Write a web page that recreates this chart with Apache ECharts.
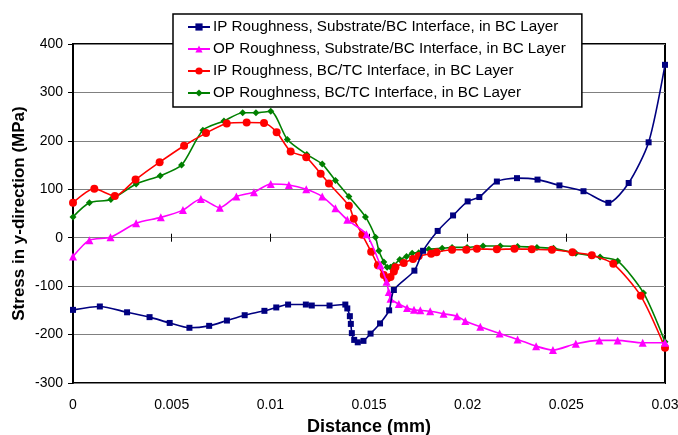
<!DOCTYPE html>
<html>
<head>
<meta charset="utf-8">
<script src="https://cdn.jsdelivr.net/npm/echarts@6/dist/echarts.min.js"></script>
<style>
html,body{margin:0;padding:0;background:#fff;}
#chart{width:678px;height:435px;}
</style>
</head>
<body>
<div id="chart"></div>
<script>
// ---- data ----
var seriesNames = [
  'IP Roughness, Substrate/BC Interface, in BC Layer',
  'OP Roughness, Substrate/BC Interface, in BC Layer',
  'IP Roughness, BC/TC Interface, in BC Layer',
  'OP Roughness, BC/TC Interface, in BC Layer'
];

var ipSubX = [0, 0.00136, 0.00274, 0.00388, 0.0049, 0.0059, 0.0069, 0.0078, 0.0087, 0.0097, 0.0103, 0.0109, 0.0118, 0.0121, 0.0130, 0.0138, 0.0139, 0.01403, 0.01408, 0.01413, 0.01425, 0.01443, 0.01472, 0.01508, 0.01556, 0.01602, 0.01626, 0.0173, 0.01774, 0.01848, 0.01926, 0.0200, 0.02059, 0.02148, 0.0225, 0.02354, 0.02465, 0.02587, 0.02713, 0.02816, 0.02917, 0.03];
var ipSubY = [-149, -142, -154, -164, -176, -186, -182, -171, -160, -151, -144, -138, -138, -140, -140, -138, -146, -162, -178, -197, -211, -216, -213, -198, -177, -150, -108, -68, -27, 14, 46, 75, 84, 116, 123, 120, 108, 96, 72, 113, 197, 357];

var opSubX = [0, 0.00083, 0.0019, 0.0032, 0.00445, 0.00557, 0.00648, 0.00744, 0.00828, 0.00917, 0.01002, 0.01094, 0.01182, 0.01263, 0.0133, 0.0139, 0.01487, 0.01558, 0.01589, 0.016, 0.01609, 0.01651, 0.01693, 0.01728, 0.0176, 0.0181, 0.01878, 0.01946, 0.01988, 0.02064, 0.02162, 0.02253, 0.02347, 0.02432, 0.02548, 0.02667, 0.0276, 0.02887, 0.03];
var opSubY = [-39, -5, 1, 30, 42, 57, 80, 62, 85, 94, 111, 109, 100, 85, 61, 37, 7, -57, -91, -112, -126, -137, -145, -149, -150, -152, -157, -162, -172, -184, -198, -210, -224, -232, -219, -212, -212, -217, -217];

var ipTcX = [0, 0.00108, 0.00212, 0.00317, 0.00439, 0.00563, 0.00674, 0.00779, 0.0088, 0.00968, 0.01032, 0.01103, 0.01182, 0.01255, 0.01297, 0.01398, 0.01423, 0.01466, 0.01511, 0.01545, 0.01575, 0.01592, 0.01609, 0.01626, 0.01634, 0.01676, 0.01723, 0.01752, 0.01815, 0.01842, 0.01921, 0.01993, 0.02047, 0.02148, 0.02237, 0.02325, 0.02427, 0.02531, 0.02629, 0.02738, 0.02877, 0.03];
var ipTcY = [72, 101, 86, 120, 156, 190, 216, 236, 238, 237, 218, 178, 166, 132, 112, 66, 39, 6, -29, -57, -77, -84, -81, -70, -61, -52, -44, -38, -33, -30, -25, -25, -23, -24, -23, -24, -25, -30, -36, -54, -120, -227];

var opTcX = [0, 0.00083, 0.00192, 0.0032, 0.00442, 0.0055, 0.00658, 0.00765, 0.0086, 0.00927, 0.01002, 0.01086, 0.01185, 0.01263, 0.0133, 0.01398, 0.01482, 0.01533, 0.0155, 0.01575, 0.01592, 0.01609, 0.01626, 0.01656, 0.0169, 0.01719, 0.01752, 0.01803, 0.01871, 0.01921, 0.01997, 0.02078, 0.02165, 0.02253, 0.02351, 0.02435, 0.02548, 0.02671, 0.0276, 0.02891, 0.03];
var opTcY = [43, 72, 79, 111, 128, 150, 222, 241, 258, 258, 261, 203, 172, 152, 118, 85, 43, 1, -27, -50, -61, -61, -57, -45, -39, -32, -31, -24, -22, -20, -20, -17, -17, -18, -20, -22, -32, -40, -48, -114, -215];

var xTicks = [0, 0.005, 0.01, 0.015, 0.02, 0.025, 0.03];
var yTicks = [-300, -200, -100, 0, 100, 200, 300, 400];

function pairs(xs, ys) { return xs.map(function (x, i) { return [x, ys[i]]; }); }

var FONT = 'Liberation Sans, Arial, sans-serif';
var colors = ['#000080', '#FF00FF', '#FF0000', '#008000'];
var symbols = ['rect', 'triangle', 'circle', 'diamond'];
var symbolSizes = [6, 8, 8, 7];
var dataSets = [pairs(ipSubX, ipSubY), pairs(opSubX, opSubY), pairs(ipTcX, ipTcY), pairs(opTcX, opTcY)];

var chart = echarts.init(document.getElementById('chart'), null, {renderer: 'canvas'});

var xMin = xTicks[0], xMax = xTicks[xTicks.length - 1], xStep = xTicks[1] - xTicks[0];
var yMin = yTicks[0], yMax = yTicks[yTicks.length - 1], yStep = yTicks[1] - yTicks[0];
var gridTop = 44, gridBottom = 52, plotH = 435 - gridTop - gridBottom;
var zeroOffset = -(plotH * (0 - yMin) / (yMax - yMin));

var series = seriesNames.map(function (name, i) {
  return {
    name: name,
    type: 'line',
    data: dataSets[i],
    smooth: 0.25,
    symbol: symbols[i],
    symbolSize: symbolSizes[i],
    showSymbol: true,
    clip: false,
    lineStyle: {color: colors[i], width: 1.6},
    itemStyle: {color: colors[i], borderColor: colors[i], borderWidth: 0},
    emphasis: {disabled: true},
    animation: false,
    z: 10 - i
  };
});

chart.setOption({
  animation: false,
  backgroundColor: '#ffffff',
  textStyle: {fontFamily: FONT},
  grid: {
    left: 73, right: 13, top: gridTop, bottom: gridBottom,
    containLabel: false, outerBoundsMode: 'none',
    show: true, borderColor: '#000', borderWidth: 2, backgroundColor: 'transparent'
  },
  legend: {
    orient: 'vertical',
    left: 173, top: 14,
    padding: [5, 16, 6, 14],
    itemGap: 6,
    itemWidth: 22, itemHeight: 9,
    backgroundColor: '#fff',
    borderColor: '#000', borderWidth: 1.5,
    textStyle: {fontFamily: FONT, fontSize: 15.2, color: '#000', lineHeight: 16, padding: [0, 0, 0, -2]},
    data: seriesNames,
    z: 20
  },
  xAxis: [
    {
      type: 'value', min: xMin, max: xMax, interval: xStep,
      position: 'bottom',
      axisLine: {show: false, onZero: false},
      axisTick: {show: false},
      splitLine: {show: false},
      axisLabel: {fontFamily: FONT, fontSize: 14, color: '#000', margin: 15, showMinLabel: true, showMaxLabel: true,
        formatter: function (v) { return String(+v.toFixed(4)); }},
      name: 'Distance (mm)', nameLocation: 'middle', nameGap: 35, nameMoveOverlap: false,
      nameTextStyle: {fontFamily: FONT, fontSize: 18, fontWeight: 'bold', color: '#000'}
    },
    {
      type: 'value', min: xMin, max: xMax, interval: xStep,
      position: 'bottom',
      axisLine: {show: true, onZero: false, lineStyle: {color: '#808080', width: 1}},
      axisTick: {show: true, inside: false, length: 4, lineStyle: {color: '#000', width: 1}},
      offset: zeroOffset,
      axisLabel: {show: false},
      splitLine: {show: false}
    },
    {
      type: 'value', min: xMin, max: xMax, interval: xStep,
      position: 'bottom',
      axisLine: {show: false, onZero: false},
      axisTick: {show: true, inside: true, length: 4, lineStyle: {color: '#000', width: 1}},
      offset: zeroOffset,
      axisLabel: {show: false},
      splitLine: {show: false}
    }
  ],
  yAxis: {
    type: 'value', min: yMin, max: yMax, interval: yStep,
    axisLine: {show: true, onZero: false, lineStyle: {color: '#000', width: 2}},
    axisTick: {show: true, inside: false, length: 5, lineStyle: {color: '#000', width: 1}},
    axisLabel: {fontFamily: FONT, fontSize: 14, color: '#000', margin: 10},
    splitLine: {show: true, lineStyle: {color: '#808080', width: 1}},
    name: 'Stress in y-direction (MPa)', nameLocation: 'middle', nameGap: 45, nameMoveOverlap: false,
    nameTextStyle: {fontFamily: FONT, fontSize: 17, fontWeight: 'bold', color: '#000'}
  },
  series: series
});
</script>
</body>
</html>
